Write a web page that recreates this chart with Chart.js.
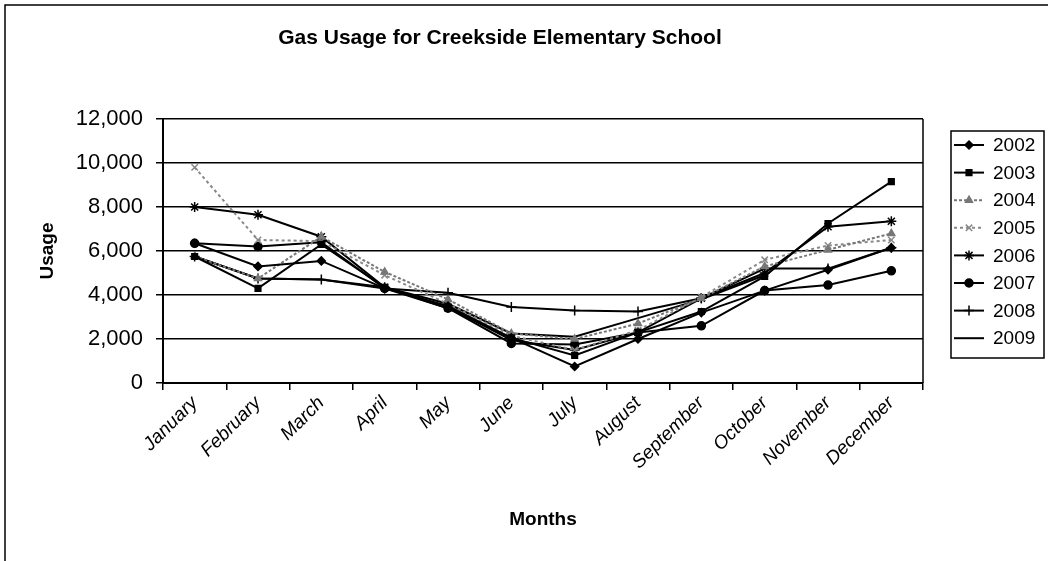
<!DOCTYPE html>
<html>
<head>
<meta charset="utf-8">
<script src="https://cdn.jsdelivr.net/npm/chart.js@4.4.1/dist/chart.umd.min.js"></script>
<style>
  html, body { margin: 0; padding: 0; background: #ffffff; }
  #wrap { width: 1048px; height: 561px; position: relative; }
</style>
</head>
<body>
<div id="wrap"><canvas id="c" width="1048" height="561"></canvas></div>
<script>
const months = ["January","February","March","April","May","June","July","August","September","October","November","December"];
const years = ["2002","2003","2004","2005","2006","2007","2008","2009"];
const y2002 = [6350, 5300, 5550, 4300, 3500, 2050, 750, 2000, 3200, 4200, 5150, 6150];
const y2003 = [5750, 4300, 6300, 4350, 3400, 2050, 1250, 2300, 3250, 4850, 7250, 9150];
const y2004 = [5750, 4750, 6650, 5050, 3800, 2250, 2000, 2700, 3850, 5300, 6050, 6800];
const y2005 = [9800, 6500, 6450, 4900, 3600, 2150, 1500, 2400, 3900, 5600, 6250, 6500];
const y2006 = [8000, 7650, 6650, 4350, 3450, 1950, 1500, 2300, 3850, 5000, 7100, 7350];
const y2007 = [6350, 6200, 6400, 4300, 3400, 1800, 1750, 2300, 2600, 4200, 4450, 5100];
const y2008 = [5750, 4750, 4700, 4300, 4100, 3450, 3300, 3250, 3850, 5200, 5200, 6150];
const y2009 = [5750, 4750, 4700, 4350, 3600, 2250, 2100, 2950, 3800, 4900, null, null];
const yMin = 0, yMax = 12000, yStep = 2000;
const chartTitle = 'Gas Usage for Creekside Elementary School';

const FONT = "'Liberation Sans', Arial, sans-serif";
const seriesValues = [y2002, y2003, y2004, y2005, y2006, y2007, y2008, y2009];
const styles = [
  {pointStyle: 'rectRot', radius: 4, color: '#000', dash: []},
  {pointStyle: 'rect', radius: 4, color: '#000', dash: []},
  {pointStyle: 'triangle', radius: 4, color: '#777', dash: [3, 2]},
  {pointStyle: 'crossRot', radius: 4.5, color: '#888', dash: [3, 3]},
  {pointStyle: 'star', radius: 5, color: '#000', dash: []},
  {pointStyle: 'circle', radius: 4, color: '#000', dash: []},
  {pointStyle: 'cross', radius: 5, color: '#000', dash: []},
  {pointStyle: false, radius: 0, color: '#000', dash: []}
];

const datasets = years.map((yr, i) => ({
  label: yr,
  data: seriesValues[i],
  borderColor: styles[i].color,
  backgroundColor: styles[i].color,
  borderWidth: 2,
  borderDash: styles[i].dash,
  pointStyle: styles[i].pointStyle,
  pointRadius: styles[i].radius,
  pointBorderColor: styles[i].color,
  pointBackgroundColor: styles[i].color,
  pointBorderWidth: 1.5,
  tension: 0,
  spanGaps: false
}));

const framePlugin = {
  id: 'frame',
  beforeDraw(chart) {
    const ctx = chart.ctx;
    ctx.save();
    ctx.fillStyle = '#fff';
    ctx.fillRect(0, 0, chart.width, chart.height);
    ctx.strokeStyle = '#000';
    ctx.lineWidth = 1.5;
    ctx.beginPath();
    ctx.moveTo(5, 561);
    ctx.lineTo(5, 5);
    ctx.lineTo(1048, 5);
    ctx.stroke();
    ctx.fillStyle = '#000';
    ctx.font = "bold 21px " + FONT;
    ctx.textAlign = 'center';
    ctx.textBaseline = 'middle';
    ctx.fillText(chartTitle, 500, 38);
    ctx.restore();
  },
  afterDatasetsDraw(chart) {
    const {ctx, chartArea} = chart;
    ctx.save();
    ctx.strokeStyle = '#000';
    ctx.lineWidth = 1.5;
    ctx.beginPath();
    ctx.moveTo(chartArea.right, chartArea.top);
    ctx.lineTo(chartArea.right, chartArea.bottom);
    ctx.stroke();
    ctx.restore();
  }
};

const boxLegend = {
  id: 'boxLegend',
  afterDraw(chart) {
    const ctx = chart.ctx;
    const bx = 951, by = 131, bw = 93, bh = 227;
    ctx.save();
    ctx.fillStyle = '#fff';
    ctx.fillRect(bx, by, bw, bh);
    ctx.strokeStyle = '#000';
    ctx.lineWidth = 1.5;
    ctx.strokeRect(bx, by, bw, bh);
    const step = 27.6;
    chart.data.datasets.forEach((ds, i) => {
      const y = by + 14 + i * step;
      ctx.save();
      ctx.strokeStyle = ds.borderColor;
      ctx.fillStyle = ds.pointBackgroundColor;
      ctx.lineWidth = 2;
      ctx.setLineDash(ds.borderDash || []);
      ctx.beginPath();
      ctx.moveTo(bx + 3, y);
      ctx.lineTo(bx + 33, y);
      ctx.stroke();
      ctx.setLineDash([]);
      if (ds.pointStyle) {
        ctx.lineWidth = 1.5;
        Chart.helpers.drawPoint(ctx, {
          pointStyle: ds.pointStyle,
          radius: ds.pointRadius,
          borderWidth: 1.5,
          rotation: 0
        }, bx + 18, y);
      }
      ctx.restore();
      ctx.fillStyle = '#000';
      ctx.font = "19px " + FONT;
      ctx.textBaseline = 'middle';
      ctx.textAlign = 'left';
      ctx.fillText(ds.label, bx + 42, y + 1);
    });
    ctx.restore();
  }
};

new Chart(document.getElementById('c'), {
  type: 'line',
  data: { labels: months, datasets },
  options: {
    responsive: false,
    animation: false,
    devicePixelRatio: 1,
    layout: { padding: { left: 8, right: 125, top: 119, bottom: 0 } },
    plugins: {
      legend: { display: false },
      tooltip: { enabled: false },
      title: { display: false }
    },
    scales: {
      x: {
        type: 'category',
        offset: true,
        grid: { offset: true, drawOnChartArea: false, drawTicks: true, tickLength: 7, color: '#000', lineWidth: 1.5 },
        border: { display: true, color: '#000', width: 2 },
        ticks: {
          color: '#000',
          font: { family: FONT, size: 19, style: 'italic' },
          maxRotation: 45, minRotation: 45,
          autoSkip: false,
          padding: 2
        },
        title: {
          display: true, text: 'Months', color: '#000',
          font: { family: FONT, size: 19, weight: 'bold', lineHeight: 1.2 },
          padding: { top: 0, bottom: 30 }
        },
        afterFit(scale) { scale.height = 178; }
      },
      y: {
        min: yMin, max: yMax,
        grid: { color: '#000', lineWidth: 1.5, tickLength: 7, drawTicks: true },
        border: { display: true, color: '#000', width: 2 },
        ticks: {
          stepSize: yStep,
          color: '#000',
          font: { family: FONT, size: 22 },
          padding: 13
        },
        title: {
          display: true, text: 'Usage', color: '#000',
          font: { family: FONT, size: 19, weight: 'bold', lineHeight: 1.2 },
          padding: { top: 28, bottom: 0 }
        },
        afterFit(scale) { scale.width = 155; }
      }
    }
  },
  plugins: [framePlugin, boxLegend]
});
</script>
</body>
</html>
